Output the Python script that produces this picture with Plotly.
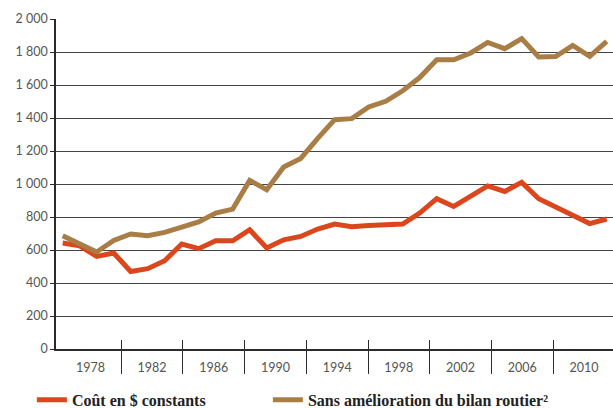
import plotly.graph_objects as go

years = list(range(1978, 2011))
cout_constant = [642, 625, 561, 582, 470, 487, 535, 636, 608, 656, 656, 723, 612, 662, 682, 727,
                 757, 741, 749, 753, 757, 824, 911, 864, 930, 988, 955, 1010, 911, 860, 810, 760, 788]
sans_amelioration = [687, 638, 588, 658, 697, 687, 707, 739, 770, 824, 848, 1022, 965, 1103, 1155, 1277,
                     1390, 1396, 1467, 1501, 1565, 1645, 1753, 1753, 1794, 1858, 1820, 1881, 1770, 1772,
                     1840, 1774, 1864]

label_years = [1978, 1982, 1986, 1990, 1994, 1998, 2002, 2006, 2010]
label_text = [str(y) for y in label_years]
divider_years = [1980, 1984, 1988, 1992, 1996, 2000, 2004, 2008]

y_vals = list(range(0, 2001, 200))
y_text = ["0", "200", "400", "600", "800", "1 000", "1 200", "1 400", "1 600", "1 800", "2 000"]

RED = "#DC461D"
BROWN = "#A97E46"
DARK = "#2b2b2b"
GRID = "#444444"
TICKC = "#555555"

fig = go.Figure()
fig.add_trace(go.Scatter(x=years, y=cout_constant, mode="lines", name="Coût en $ constants",
                         line=dict(color=RED, width=5), legend="legend"))
fig.add_trace(go.Scatter(x=years, y=sans_amelioration, mode="lines", name="Sans amélioration du bilan routier²",
                         line=dict(color=BROWN, width=5), legend="legend2"))

label_range = [1975.767, 2011.886]
legend_font = dict(family="Liberation Serif", size=16, color="#222222", weight="bold")
tick_font = dict(family="Lato", size=12.5, color=TICKC)

fig.update_layout(
    width=613, height=408,
    margin=dict(l=56, r=0, t=19, b=59, autoexpand=False),
    plot_bgcolor="white", paper_bgcolor="white",
    showlegend=True,
    legend=dict(orientation="h", xref="container", yref="container", x=0.052, y=0.02,
                xanchor="left", yanchor="middle", font=legend_font,
                bgcolor="rgba(0,0,0,0)"),
    legend2=dict(orientation="h", xref="container", yref="container", x=0.437, y=0.02,
                 xanchor="left", yanchor="middle", font=legend_font,
                 bgcolor="rgba(0,0,0,0)"),
    xaxis=dict(range=[1977.606, 2010.37], showticklabels=False, ticks="", showgrid=False,
               zeroline=False, showline=False),
    xaxis2=dict(range=label_range, overlaying="x", anchor="y", side="bottom",
                tickmode="array", tickvals=label_years, ticktext=label_text, ticks="",
                tickfont=tick_font,
                showgrid=False, zeroline=False, showline=True, linecolor=DARK, linewidth=1.5,
                ticklabelstandoff=6),
    xaxis3=dict(range=label_range, overlaying="x", anchor="y", side="bottom",
                tickmode="array", tickvals=divider_years, ticks="outside", ticklen=24,
                tickwidth=1.2, tickcolor=DARK, showticklabels=False, showgrid=False,
                zeroline=False, showline=False),
    xaxis4=dict(range=label_range, overlaying="x", anchor="y", side="bottom",
                tickmode="array", tickvals=divider_years, ticks="inside", ticklen=9,
                tickwidth=1.2, tickcolor=DARK, showticklabels=False, showgrid=False,
                zeroline=False, showline=False),
    yaxis=dict(range=[0, 2000], tickmode="array", tickvals=y_vals, ticktext=y_text,
               ticks="outside", ticklen=4, tickcolor=DARK, tickwidth=1.2,
               tickfont=tick_font,
               showgrid=True, gridcolor=GRID, gridwidth=1.3, zeroline=False,
               showline=True, linecolor=DARK, linewidth=1.5),
)

# invisible helper traces to activate the overlay axes
for ax in ["x2", "x3", "x4"]:
    fig.add_trace(go.Scatter(x=[label_range[0]], y=[None], xaxis=ax, yaxis="y",
                             mode="lines", showlegend=False, hoverinfo="skip"))

fig.write_html("out.html", config={"displayModeBar": False},
               post_script="document.body.style.margin='0';document.body.style.overflow='hidden';")
